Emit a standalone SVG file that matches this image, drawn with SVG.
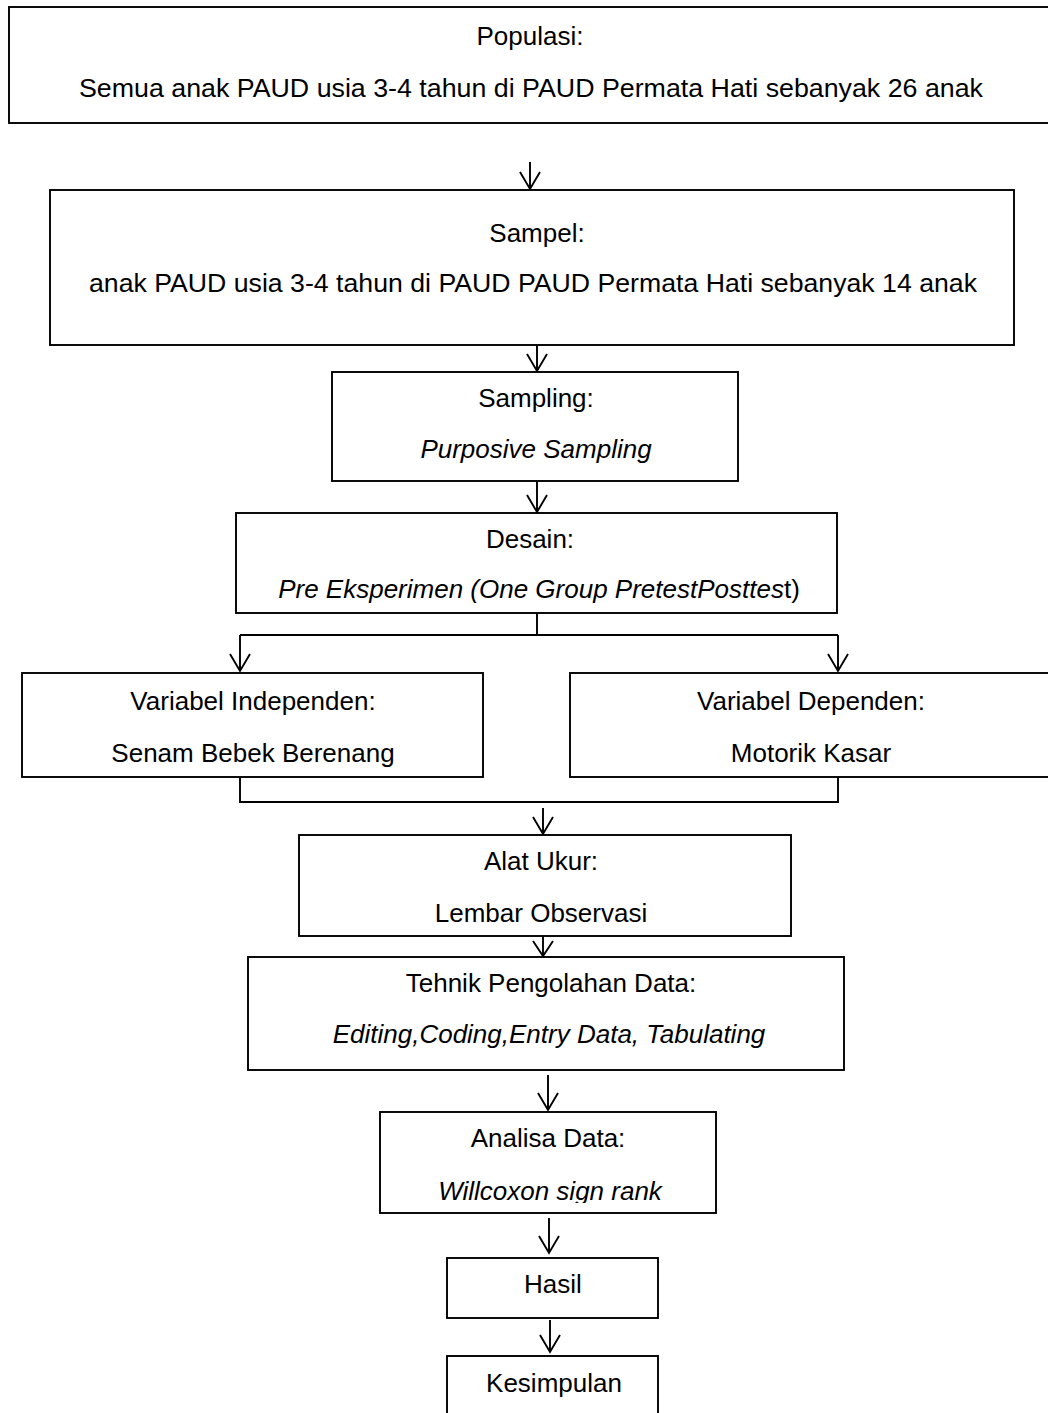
<svg xmlns="http://www.w3.org/2000/svg" width="1048" height="1413" viewBox="0 0 1048 1413">
<style>
.box{fill:#fff;stroke:#000;stroke-width:1.9}
.t{font-family:"Liberation Sans",Arial,sans-serif;font-size:26px;fill:#000;text-anchor:middle}
.i{font-style:italic}
.c{fill:none;stroke:#000;stroke-width:1.9}
</style>
<defs>
<clipPath id="clipW"><rect x="380" y="1160" width="336" height="43"/></clipPath>
</defs>
<rect width="1048" height="1413" fill="#fff"/>
<g id="connectors">
<path class="c" d="M530 162V189M520 172L530 189L540 172"/>
<path class="c" d="M537 345V371M527 354L537 371L547 354"/>
<path class="c" d="M537 481V512M527 495L537 512L547 495"/>
<path class="c" d="M537 613V635M240 635H838M240 635V671M230 654L240 671L250 654M838 635V671M828 654L838 671L848 654"/>
<path class="c" d="M240 777V802H838V777"/>
<path class="c" d="M543 808V834M533 817L543 834L553 817"/>
<path class="c" d="M543 936V956M533 941L543 956L553 941"/>
<path class="c" d="M548 1075V1110M538 1093L548 1110L558 1093"/>
<path class="c" d="M549 1218V1253M539 1236L549 1253L559 1236"/>
<path class="c" d="M550 1320V1352M540 1335L550 1352L560 1335"/>
</g>
<g id="populasi">
<rect class="box" x="9" y="7" width="1060" height="116"/>
<text class="t" x="530" y="45">Populasi:</text>
<text class="t" x="531" y="97" textLength="904" lengthAdjust="spacingAndGlyphs">Semua anak PAUD usia 3-4 tahun di PAUD Permata Hati sebanyak 26 anak</text>
</g>
<g id="sampel">
<rect class="box" x="50" y="190" width="964" height="155"/>
<text class="t" x="537" y="242">Sampel:</text>
<text class="t" x="533" y="292" textLength="888" lengthAdjust="spacingAndGlyphs">anak PAUD usia 3-4 tahun di PAUD PAUD Permata Hati sebanyak 14 anak</text>
</g>
<g id="sampling">
<rect class="box" x="332" y="372" width="406" height="109"/>
<text class="t" x="536" y="407">Sampling:</text>
<text class="t i" x="536" y="458">Purposive Sampling</text>
</g>
<g id="desain">
<rect class="box" x="236" y="513" width="601" height="100"/>
<text class="t" x="530" y="548">Desain:</text>
<text class="t" x="539" y="598"><tspan class="i">Pre Eksperimen (One Group PretestPosttes</tspan>t)</text>
</g>
<g id="var-independen">
<rect class="box" x="22" y="673" width="461" height="104"/>
<text class="t" x="253" y="710">Variabel Independen:</text>
<text class="t" x="253" y="762">Senam Bebek Berenang</text>
</g>
<g id="var-dependen">
<rect class="box" x="570" y="673" width="500" height="104"/>
<text class="t" x="811" y="710">Variabel Dependen:</text>
<text class="t" x="811" y="762">Motorik Kasar</text>
</g>
<g id="alat-ukur">
<rect class="box" x="299" y="835" width="492" height="101"/>
<text class="t" x="541" y="870">Alat Ukur:</text>
<text class="t" x="541" y="922">Lembar Observasi</text>
</g>
<g id="tehnik">
<rect class="box" x="248" y="957" width="596" height="113"/>
<text class="t" x="551" y="992">Tehnik Pengolahan Data:</text>
<text class="t i" x="549" y="1043">Editing,Coding,Entry Data, Tabulating</text>
</g>
<g id="analisa">
<rect class="box" x="380" y="1112" width="336" height="101"/>
<text class="t" x="548" y="1147">Analisa Data:</text>
<text class="t i" x="550" y="1200" clip-path="url(#clipW)">Willcoxon sign rank</text>
</g>
<g id="hasil">
<rect class="box" x="447" y="1258" width="211" height="60"/>
<text class="t" x="553" y="1293">Hasil</text>
</g>
<g id="kesimpulan">
<rect class="box" x="447" y="1356" width="211" height="70"/>
<text class="t" x="554" y="1392">Kesimpulan</text>
</g>
</svg>
